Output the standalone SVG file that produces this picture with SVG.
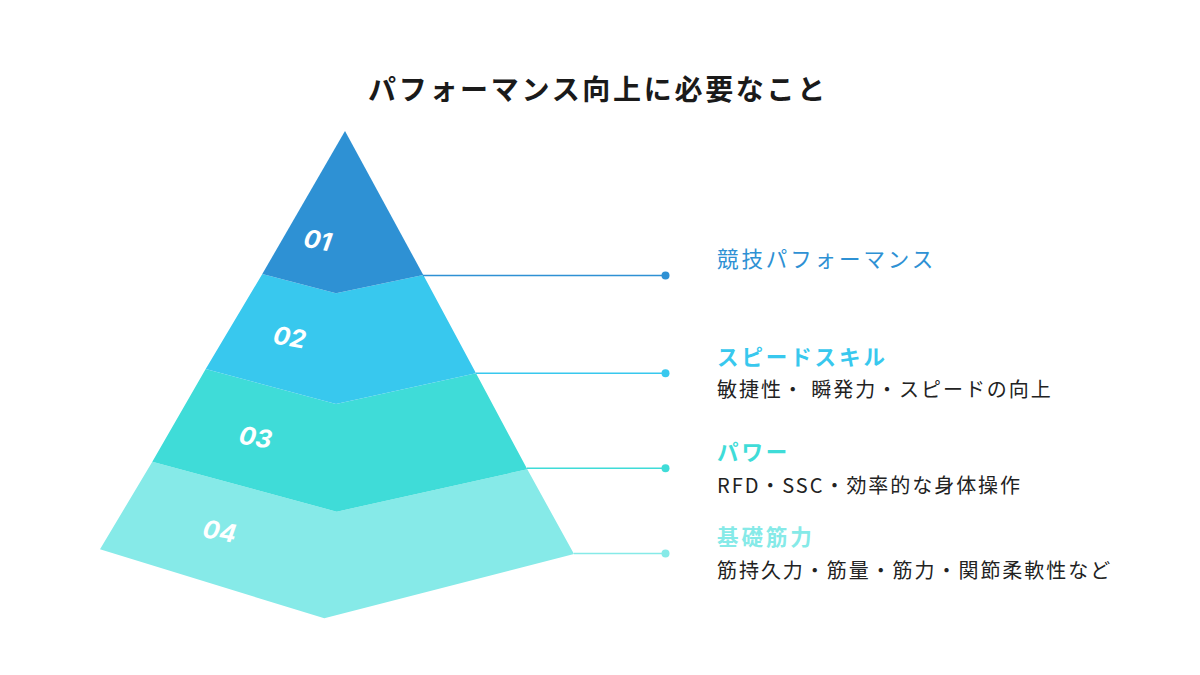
<svg xmlns="http://www.w3.org/2000/svg" width="1200" height="675" viewBox="0 0 1200 675">
<style>
.jp{font-family:"Noto Sans CJK JP","Noto Sans",sans-serif}
.title{font-size:28px;font-weight:700;fill:#1a1a1a;letter-spacing:2.7px}
.head{font-size:21.5px;font-weight:700;letter-spacing:2.9px}
.desc{font-size:20px;font-weight:400;fill:#222;letter-spacing:1.95px}
.num{font-family:"Inter","Noto Sans",sans-serif;font-size:25px;font-weight:700;font-style:italic;fill:#fff}
.c1{fill:#2E91D4}.c2{fill:#38C8EE}.c3{fill:#3FDCD8}.c4{fill:#86EAE8}
.l1{stroke:#2E91D4}.l2{stroke:#38C8EE}.l3{stroke:#3FDCD8}.l4{stroke:#86EAE8}
line{stroke-width:1.5}
</style>
<rect width="1200" height="675" fill="#fff"/>
<text class="jp title" x="598" y="100" text-anchor="middle">パフォーマンス向上に必要なこと</text>
<g id="layer4">
<polygon class="c4" points="152.3,461.7 336.7,511.7 527.3,469.3 574,554 324.3,618.3 100,549.3"/>
<text class="num" transform="translate(218,540) rotate(10)" text-anchor="middle">04</text>
</g>
<g id="layer3">
<polygon class="c3" points="205.7,369 336,404 476,373.3 527.3,469.3 336.7,511.7 152.3,461.7"/>
<text class="num" transform="translate(254,446) rotate(10)" text-anchor="middle">03</text>
</g>
<g id="layer2">
<polygon class="c2" points="262.3,274 336,293.3 423.3,275 476,373.3 336,404 205.7,369"/>
<text class="num" transform="translate(288,346) rotate(10)" text-anchor="middle">02</text>
</g>
<g id="layer1">
<polygon class="c1" points="345,131 423.3,275 336,293.3 262.3,274"/>
<text class="num" transform="translate(316,249) rotate(10)" text-anchor="middle">01</text>
</g>
<g id="connectors">
<line class="l1" x1="423" y1="275.5" x2="665" y2="275.5"/>
<circle class="c1" cx="665.5" cy="275.5" r="4"/>
<line class="l2" x1="476" y1="373.3" x2="665" y2="373.3"/>
<circle class="c2" cx="665.5" cy="373.3" r="4"/>
<line class="l3" x1="527" y1="468.3" x2="665" y2="468.3"/>
<circle class="c3" cx="665.5" cy="468.3" r="4"/>
<line class="l4" x1="574" y1="553.5" x2="665" y2="553.5"/>
<circle class="c4" cx="665.5" cy="553.5" r="4"/>
</g>
<g id="label1">
<text class="jp head c1" x="717" y="267" style="font-weight:400">競技パフォーマンス</text>
</g>
<g id="label2">
<text class="jp head c2" x="717" y="365">スピードスキル</text>
<text class="jp desc" x="717" y="397">敏捷性・ 瞬発力・スピードの向上</text>
</g>
<g id="label3">
<text class="jp head c3" x="717" y="460">パワー</text>
<text class="jp desc" x="717" y="493">RFD・SSC・効率的な身体操作</text>
</g>
<g id="label4">
<text class="jp head c4" x="717" y="545">基礎筋力</text>
<text class="jp desc" x="717" y="578">筋持久力・筋量・筋力・関節柔軟性など</text>
</g>
</svg>
